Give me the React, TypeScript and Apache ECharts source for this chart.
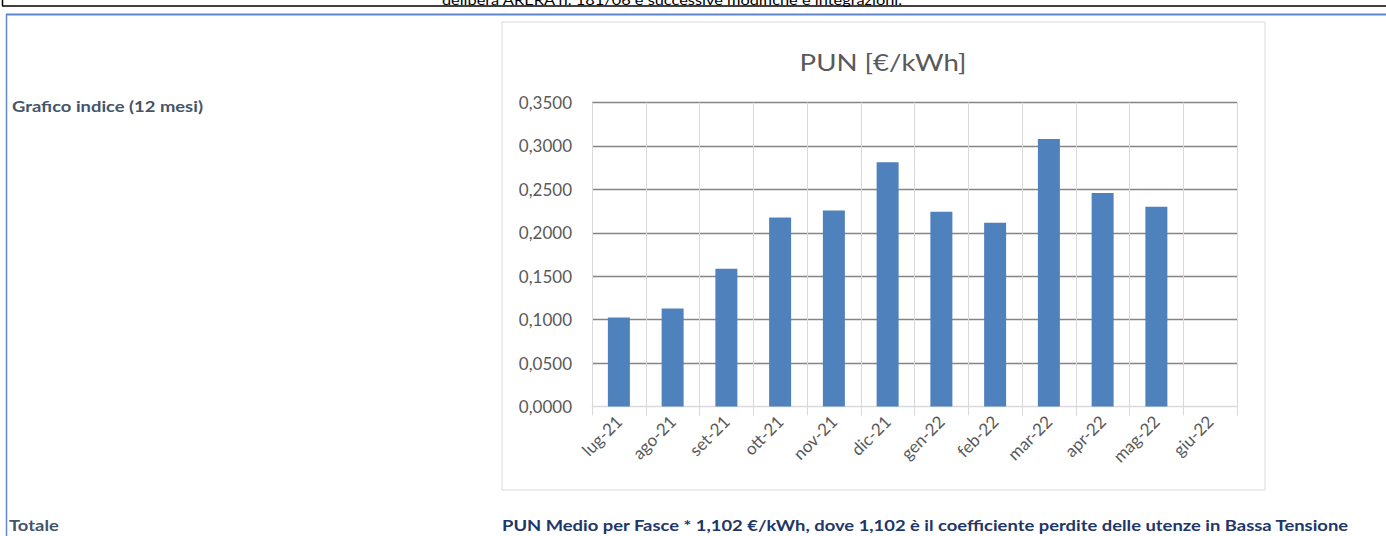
import React, { useEffect, useRef } from "react";
import * as echarts from "echarts";

const categories = ["lug-21", "ago-21", "set-21", "ott-21", "nov-21", "dic-21", "gen-22", "feb-22", "mar-22", "apr-22", "mag-22", "giu-22"];
const punValues: (number | null)[] = [0.1025, 0.1127, 0.1586, 0.2176, 0.2257, 0.2811, 0.2241, 0.2116, 0.3081, 0.2457, 0.2300, null];
const yMin = 0;
const yMax = 0.35;
const yStep = 0.05;

const chartTitle = "PUN [€/kWh]";
const topNote = "delibera ARERA n. 181/06 e successive modifiche e integrazioni.";
const leftLabel = "Grafico indice (12 mesi)";
const totalLabel = "Totale";
const totalText = "PUN Medio per Fasce * 1,102 €/kWh, dove 1,102 è il coefficiente perdite delle utenze in Bassa Tensione";

const FONT = "Lato, 'Open Sans', sans-serif";

export default function App() {
  const ref = useRef<HTMLDivElement>(null);
  useEffect(() => {
    document.body.style.margin = "0";
    if (!ref.current) return;
    const chart = echarts.init(ref.current, undefined, { renderer: "svg", width: 1386, height: 536 });
    const fmt = (v: number) => v.toFixed(4).replace(".", ",");
    const txt = (x: number, y: number, text: string, font: string, fill: string, align: string, vAlign: string, sx: number) => ({
      type: "text",
      x,
      y,
      scaleX: sx,
      style: { text, fill, font, textAlign: align, textVerticalAlign: vAlign, align, verticalAlign: vAlign },
    });
    chart.setOption({
      animation: false,
      backgroundColor: "#ffffff",
      grid: { left: 592, right: 149, top: 102.5, bottom: 129.5, containLabel: false },
      xAxis: {
        type: "category",
        data: categories,
        boundaryGap: true,
        axisLine: { show: true, lineStyle: { color: "#d9d9d9", width: 1 } },
        axisTick: { show: true, length: 9, lineStyle: { color: "#d9d9d9" } },
        splitLine: { show: true, lineStyle: { color: "#d9d9d9", width: 1 } },
        axisLabel: { rotate: 45, color: "#595959", fontSize: 17, fontFamily: FONT, margin: 12, interval: 0 },
      },
      yAxis: {
        type: "value",
        min: yMin,
        max: yMax,
        interval: yStep,
        axisLine: { show: false },
        axisTick: { show: false },
        splitLine: {
          show: true,
          lineStyle: { color: ["#d9d9d9", "#858585", "#858585", "#858585", "#858585", "#858585", "#858585", "#858585"], width: 1.4 },
        },
        axisLabel: { color: "#595959", fontSize: 17, fontFamily: FONT, margin: 20, formatter: fmt },
      },
      series: [
        {
          type: "bar",
          data: punValues,
          barWidth: 22,
          itemStyle: { color: "#4f81bd" },
          z: 3,
        },
      ],
      graphic: [
        txt(672, -0.5, topNote, `14px ${FONT}`, "#000000", "center", "middle", 1.17),
        { type: "line", shape: { x1: 2.5, y1: 0, x2: 2.5, y2: 6 }, style: { stroke: "#000000", lineWidth: 1.5 } },
        { type: "line", shape: { x1: 2, y1: 6, x2: 1386, y2: 6 }, style: { stroke: "#000000", lineWidth: 1.5 } },
        { type: "line", shape: { x1: 6, y1: 14.5, x2: 1386, y2: 14.5 }, style: { stroke: "#5f86cf", lineWidth: 2 } },
        { type: "line", shape: { x1: 6.5, y1: 14, x2: 6.5, y2: 536 }, style: { stroke: "#5f86cf", lineWidth: 1.5 } },
        { type: "rect", shape: { x: 502, y: 22, width: 763, height: 468 }, style: { fill: "none", stroke: "#d9d9d9", lineWidth: 1 } },
        txt(883, 62, chartTitle, `24px ${FONT}`, "#595959", "center", "middle", 1.15),
        txt(12, 106, leftLabel, `bold 16px ${FONT}`, "#44546a", "left", "middle", 1.15),
        txt(9, 525, totalLabel, `bold 16px ${FONT}`, "#44546a", "left", "middle", 1.15),
        txt(502, 525, totalText, `bold 16px ${FONT}`, "#1f3668", "left", "middle", 1.15),
      ],
    });
    return () => chart.dispose();
  }, []);
  return <div ref={ref} style={{ position: "fixed", left: 0, top: 0, width: 1386, height: 536, background: "#fff" }} />;
}
